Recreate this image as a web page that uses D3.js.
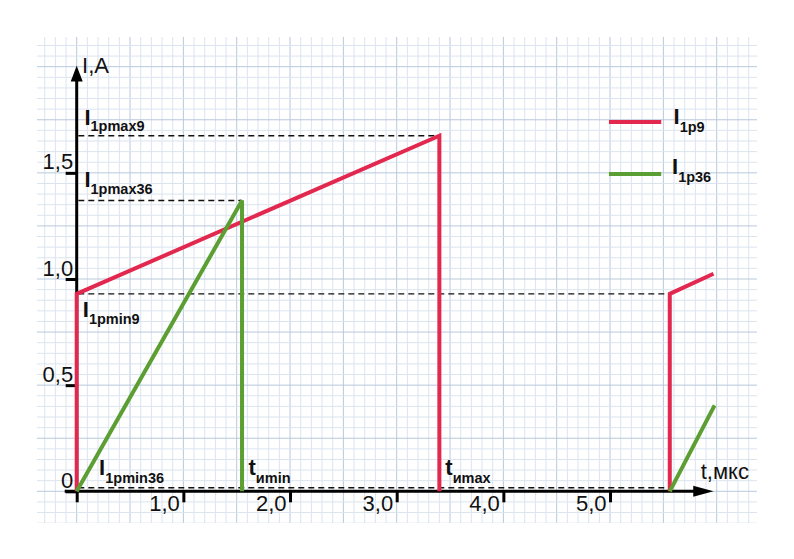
<!DOCTYPE html>
<html><head><meta charset="utf-8">
<script src="https://cdn.jsdelivr.net/npm/d3@7"></script>
<style>
body{margin:0;background:#fff;}
text{font-family:"Liberation Sans",Arial,sans-serif;}
</style></head>
<body><svg id="c" width="794" height="559"></svg>
<script>
// ---- data ----
const xTicks = [0, 1, 2, 3, 4, 5];
const yTicks = [0, 0.5, 1.0, 1.5];
const xTickLabels = ["", "1,0", "2,0", "3,0", "4,0", "5,0"];
const yTickLabels = ["0", "0,5", "1,0", "1,5"];
// I1p9 current (t in µs, I in A)
const red1T = [0, 0, 3.4, 3.4];
const red1I = [0, 0.93, 1.675, 0];
const red2T = [5.56, 5.56, 5.97];
const red2I = [0, 0.93, 1.025];
// I1p36 current
const green1T = [0, 1.55, 1.55];
const green1I = [0, 1.37, 0];
const green2T = [5.56, 5.98];
const green2I = [0, 0.405];
// reference levels (dashed)
const levelNames = ["1pmax9", "1pmax36", "1pmin9", "1pmin36"];
const levelI = [1.675, 1.37, 0.93, 0.017];
const levelTEnd = [3.4, 1.55, 5.56, 5.56];
const legendNames = ["1p9", "1p36"];

// ---- scales ----
const svg = d3.select("#c");
const x = d3.scaleLinear().domain([0, 6]).range([76.7, 716.7]);
const y = d3.scaleLinear().domain([0, 2]).range([491.3, 66.7]);
const RED = "#e3284f", GREEN = "#5b9e31";

// ---- grid paper ----
const gx0 = 37, gx1 = 757, gy0 = 37, gy1 = 523;
svg.append("clipPath").attr("id", "gclip").append("rect")
  .attr("x", gx0).attr("y", gy0).attr("width", gx1 - gx0).attr("height", gy1 - gy0);
const grid = svg.append("g").attr("clip-path", "url(#gclip)");
const vMinor = d3.range(-4, 65).map(k => k / 10);
const hMinor = d3.range(-3, 44).map(k => k / 20);
grid.selectAll(".vm").data(vMinor).join("line")
  .attr("x1", d => x(d)).attr("x2", d => x(d)).attr("y1", gy0).attr("y2", gy1)
  .attr("stroke", d => Math.abs(Math.round(d * 10) % 5) === 0 ? "#b8c8dc" : "#dbe4ef")
  .attr("stroke-width", 1);
grid.selectAll(".hm").data(hMinor).join("line")
  .attr("y1", d => y(d)).attr("y2", d => y(d)).attr("x1", gx0).attr("x2", gx1)
  .attr("stroke", d => Math.abs(Math.round(d * 20) % 5) === 0 ? "#b8c8dc" : "#dbe4ef")
  .attr("stroke-width", 1);

// ---- dashed levels ----
svg.selectAll(".lvl").data(levelI).join("line")
  .attr("x1", x(0.015)).attr("x2", (d, i) => x(levelTEnd[i]))
  .attr("y1", d => y(d)).attr("y2", d => y(d))
  .attr("stroke", "#111").attr("stroke-width", 1.4).attr("stroke-dasharray", "6,4");

// ---- axes ----
const xAxis = svg.append("g").attr("transform", `translate(0,${y(0)})`)
  .call(d3.axisBottom(x).tickValues(xTicks).tickSize(11).tickFormat((d, i) => xTickLabels[i]));
xAxis.select(".domain").remove();
xAxis.selectAll(".tick line").attr("stroke", "#000").attr("stroke-width", 3);
xAxis.selectAll(".tick text").attr("text-anchor", "end").attr("x", -4).attr("y", 19.5).attr("dy", 0)
  .attr("font-size", 22).attr("fill", "#111");

const yAxis = svg.append("g").attr("transform", `translate(${x(0)},0)`)
  .call(d3.axisLeft(y).tickValues(yTicks).tickSize(11).tickFormat((d, i) => yTickLabels[i]));
yAxis.select(".domain").remove();
yAxis.selectAll(".tick line").attr("stroke", "#000").attr("stroke-width", 3);
yAxis.selectAll(".tick text").attr("text-anchor", "end").attr("x", -3.5).attr("y", -4).attr("dy", 0)
  .attr("font-size", 22).attr("fill", "#111");

// axis lines with arrows
svg.append("line").attr("x1", x(0) - 12).attr("x2", x(5.8)).attr("y1", y(0)).attr("y2", y(0))
  .attr("stroke", "#000").attr("stroke-width", 3);
svg.append("path").attr("d", `M${x(5.78)},${y(0) - 5.5}L${x(5.97)},${y(0)}L${x(5.78)},${y(0) + 5.5}Z`).attr("fill", "#000");
svg.append("line").attr("x1", x(0)).attr("x2", x(0)).attr("y1", y(0) + 1.5).attr("y2", y(1.95))
  .attr("stroke", "#000").attr("stroke-width", 3);
svg.append("path").attr("d", `M${x(0) - 6},${y(1.93)}L${x(0)},${y(2.005)}L${x(0) + 6},${y(1.93)}Z`).attr("fill", "#000");

svg.append("text").attr("x", x(0.05)).attr("y", y(1.97)).attr("font-size", 22).attr("fill", "#111").text("I,A");
svg.append("text").attr("x", x(5.85)).attr("y", y(0.057)).attr("font-size", 22).attr("fill", "#111").text("t,мкс");

// ---- series ----
const line = d3.line().x(d => x(d[0])).y(d => y(d[1]));
const zip = (t, v) => t.map((d, i) => [d, v[i]]);
const segs = [
  { pts: zip(red1T, red1I), c: RED },
  { pts: zip(red2T, red2I), c: RED },
  { pts: zip(green1T, green1I), c: GREEN },
  { pts: zip(green2T, green2I), c: GREEN }
];
svg.selectAll(".ser").data(segs).join("path")
  .attr("d", d => line(d.pts)).attr("fill", "none")
  .attr("stroke", d => d.c).attr("stroke-width", 4)
  .attr("stroke-linejoin", "miter").attr("stroke-miterlimit", 2);

// ---- annotations ----
function label(px, py, main, sub, subDy) {
  const t = svg.append("text").attr("x", px).attr("y", py).attr("font-weight", "bold").attr("fill", "#111");
  t.append("tspan").attr("font-size", 22).text(main);
  t.append("tspan").attr("font-size", 14.5).attr("dy", subDy).text(sub);
}
label(x(0.072), y(levelI[0]) - 11, "I", levelNames[0], 6);
label(x(0.072), y(levelI[1]) - 13, "I", levelNames[1], 7);
label(x(0.057), y(levelI[2]) + 23, "I", levelNames[2], 7);
label(x(0.21), y(levelI[3]) - 12.5, "I", levelNames[3], 7.5);
label(x(green1T[1]) + 6.5, y(levelI[3]) - 12.5, "t", "иmin", 8);
label(x(red1T[2]) + 6, y(levelI[3]) - 12.5, "t", "иmax", 8);

// ---- legend ----
const legC = [RED, GREEN];
const legY = [1.74, 1.495];
legC.forEach((c, i) => {
  svg.append("line").attr("x1", x(4.99)).attr("x2", x(5.48)).attr("y1", y(legY[i])).attr("y2", y(legY[i]))
    .attr("stroke", c).attr("stroke-width", 4);
  label(x(5.595) - i * 1.5, y(legY[i]) + 2.5 - i * 2.5, "I", legendNames[i], 8);
});
</script></body></html>
